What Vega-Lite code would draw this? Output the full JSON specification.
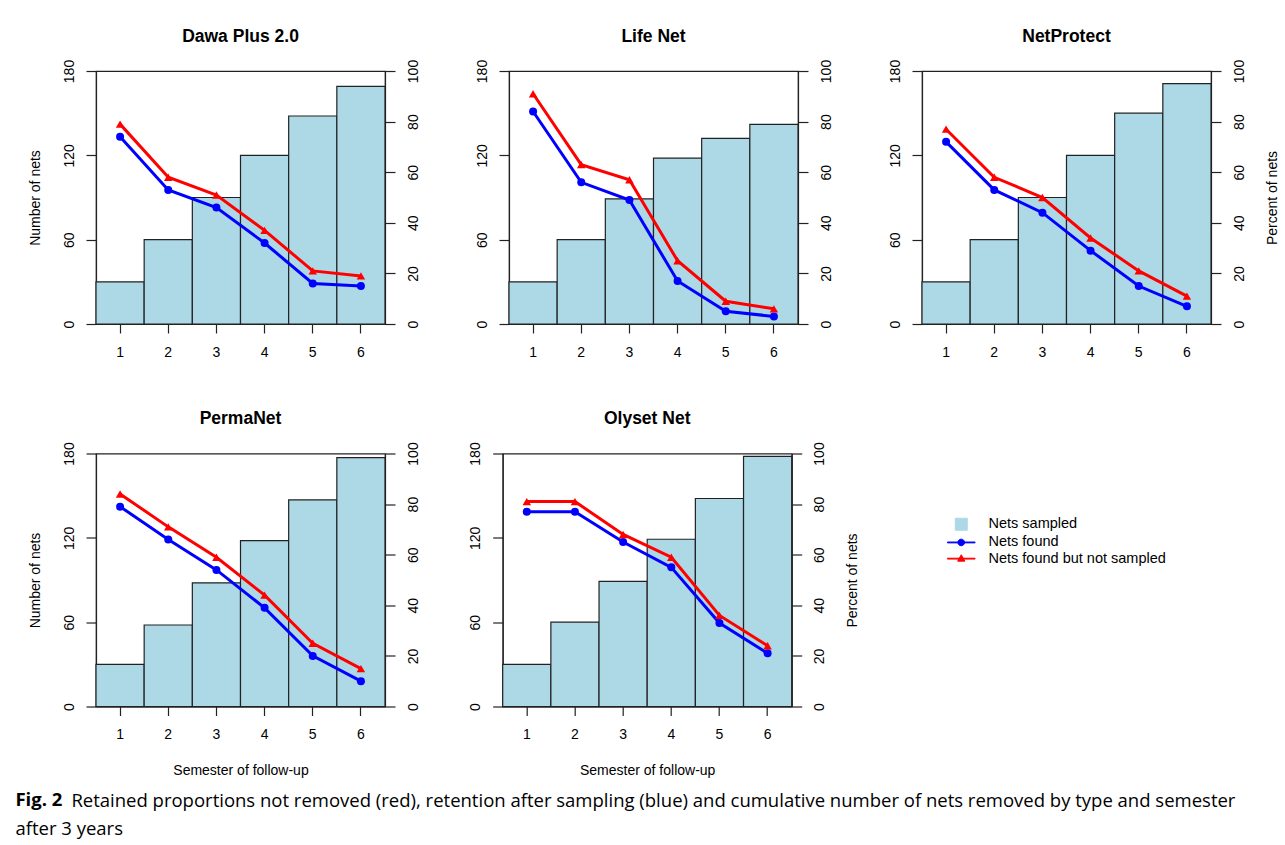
{
  "$schema": "https://vega.github.io/schema/vega-lite/v6.json",
  "background": "white",
  "padding": {"left": 15, "top": 27, "right": 4, "bottom": 4},
  "data": {"values": [
    {"net": "Dawa Plus 2.0", "semester": 1, "Nets sampled": 30, "Nets found": 74, "Nets found but not sampled": 79},
    {"net": "Dawa Plus 2.0", "semester": 2, "Nets sampled": 60, "Nets found": 53, "Nets found but not sampled": 58},
    {"net": "Dawa Plus 2.0", "semester": 3, "Nets sampled": 90, "Nets found": 46, "Nets found but not sampled": 51},
    {"net": "Dawa Plus 2.0", "semester": 4, "Nets sampled": 120, "Nets found": 32, "Nets found but not sampled": 37},
    {"net": "Dawa Plus 2.0", "semester": 5, "Nets sampled": 148, "Nets found": 16, "Nets found but not sampled": 21},
    {"net": "Dawa Plus 2.0", "semester": 6, "Nets sampled": 169, "Nets found": 15, "Nets found but not sampled": 19},
    {"net": "Life Net", "semester": 1, "Nets sampled": 30, "Nets found": 84, "Nets found but not sampled": 91},
    {"net": "Life Net", "semester": 2, "Nets sampled": 60, "Nets found": 56, "Nets found but not sampled": 63},
    {"net": "Life Net", "semester": 3, "Nets sampled": 89, "Nets found": 49, "Nets found but not sampled": 57},
    {"net": "Life Net", "semester": 4, "Nets sampled": 118, "Nets found": 17, "Nets found but not sampled": 25},
    {"net": "Life Net", "semester": 5, "Nets sampled": 132, "Nets found": 5, "Nets found but not sampled": 9},
    {"net": "Life Net", "semester": 6, "Nets sampled": 142, "Nets found": 3, "Nets found but not sampled": 6},
    {"net": "NetProtect", "semester": 1, "Nets sampled": 30, "Nets found": 72, "Nets found but not sampled": 77},
    {"net": "NetProtect", "semester": 2, "Nets sampled": 60, "Nets found": 53, "Nets found but not sampled": 58},
    {"net": "NetProtect", "semester": 3, "Nets sampled": 90, "Nets found": 44, "Nets found but not sampled": 50},
    {"net": "NetProtect", "semester": 4, "Nets sampled": 120, "Nets found": 29, "Nets found but not sampled": 34},
    {"net": "NetProtect", "semester": 5, "Nets sampled": 150, "Nets found": 15, "Nets found but not sampled": 21},
    {"net": "NetProtect", "semester": 6, "Nets sampled": 171, "Nets found": 7, "Nets found but not sampled": 11},
    {"net": "PermaNet", "semester": 1, "Nets sampled": 30, "Nets found": 79, "Nets found but not sampled": 84},
    {"net": "PermaNet", "semester": 2, "Nets sampled": 58, "Nets found": 66, "Nets found but not sampled": 71},
    {"net": "PermaNet", "semester": 3, "Nets sampled": 88, "Nets found": 54, "Nets found but not sampled": 59},
    {"net": "PermaNet", "semester": 4, "Nets sampled": 118, "Nets found": 39, "Nets found but not sampled": 44},
    {"net": "PermaNet", "semester": 5, "Nets sampled": 147, "Nets found": 20, "Nets found but not sampled": 25},
    {"net": "PermaNet", "semester": 6, "Nets sampled": 177, "Nets found": 10, "Nets found but not sampled": 15},
    {"net": "Olyset Net", "semester": 1, "Nets sampled": 30, "Nets found": 77, "Nets found but not sampled": 81},
    {"net": "Olyset Net", "semester": 2, "Nets sampled": 60, "Nets found": 77, "Nets found but not sampled": 81},
    {"net": "Olyset Net", "semester": 3, "Nets sampled": 89, "Nets found": 65, "Nets found but not sampled": 68},
    {"net": "Olyset Net", "semester": 4, "Nets sampled": 119, "Nets found": 55, "Nets found but not sampled": 59},
    {"net": "Olyset Net", "semester": 5, "Nets sampled": 148, "Nets found": 33, "Nets found but not sampled": 36},
    {"net": "Olyset Net", "semester": 6, "Nets sampled": 178, "Nets found": 21, "Nets found but not sampled": 24}
  ]},
  "transform": [{"fold": ["Nets sampled", "Nets found", "Nets found but not sampled"], "as": ["series", "value"]}],
  "title": {
    "text": "Fig. 2", "subtitle": "after 3 years", "orient": "bottom", "anchor": "start", "frame": "bounds",
    "font": "Open Sans", "fontSize": 18.5, "fontWeight": "bold", "color": "black", "baseline": "top",
    "subtitleFont": "Open Sans", "subtitleFontSize": 18.5, "subtitleFontWeight": "normal", "subtitleColor": "black",
    "subtitlePadding": 11, "offset": 0, "dx": -12, "dy": -20
  },
  "spacing": 49.5,
  "vconcat": [
    {
      "hconcat": [
        {
          "title": "Dawa Plus 2.0", "width": 289, "height": 253,
          "transform": [{"filter": "datum.net === 'Dawa Plus 2.0'"}],
          "encoding": {"x": {"field": "semester", "type": "ordinal", "scale": {"type": "band", "paddingInner": 0, "paddingOuter": 0}, "axis": {"title": null}}},
          "layer": [
            {"transform": [{"filter": "datum.series === 'Nets sampled'"}],
             "mark": {"type": "bar", "stroke": "#222", "strokeWidth": 1.2},
             "encoding": {
               "y": {"field": "value", "type": "quantitative", "scale": {"domain": [0, 180], "nice": false}, "axis": {"orient": "left", "values": [0, 60, 120, 180], "title": "Number of nets"}},
               "color": {"field": "series", "type": "nominal", "title": null, "scale": {"domain": ["Nets sampled", "Nets found", "Nets found but not sampled"], "range": ["#ADD8E6", "#0000FF", "#FF0000"]}}
             }},
            {"transform": [{"filter": "datum.series !== 'Nets sampled'"}],
             "encoding": {
               "y": {"field": "value", "type": "quantitative", "scale": {"domain": [0, 100], "nice": false}, "axis": {"orient": "right", "values": [0, 20, 40, 60, 80, 100], "title": null}},
               "color": {"field": "series", "type": "nominal", "title": null, "scale": {"domain": ["Nets sampled", "Nets found", "Nets found but not sampled"], "range": ["#ADD8E6", "#0000FF", "#FF0000"]}}
             },
             "layer": [
               {"mark": {"type": "line", "strokeWidth": 3}},
               {"transform": [{"filter": "datum.series === 'Nets found'"}], "mark": {"type": "point", "shape": "circle", "filled": true, "opacity": 1, "size": 64}},
               {"transform": [{"filter": "datum.series === 'Nets found but not sampled'"}], "mark": {"type": "point", "shape": "triangle-up", "filled": true, "opacity": 1, "size": 72}}
             ]},
            {"transform": [{"filter": "false"}],
             "mark": {"type": "point", "filled": true, "opacity": 1},
             "encoding": {
               "color": {"field": "series", "type": "nominal", "title": null, "scale": {"domain": ["Nets sampled", "Nets found", "Nets found but not sampled"], "range": ["#ADD8E6", "#0000FF", "#FF0000"]},
                 "legend": {"title": null, "orient": "none", "legendX": 858, "legendY": 446}},
               "shape": {"field": "series", "type": "nominal", "title": null,
                 "scale": {"domain": ["Nets sampled", "Nets found", "Nets found but not sampled"],
                   "range": ["M-1,-1H1V1H-1Z", "M-2.3,-0.07H2.3V0.07H-2.3Z M0.55,0A0.55,0.55 0 1,1 -0.55,0A0.55,0.55 0 1,1 0.55,0Z", "M-2.3,-0.07H2.3V0.07H-2.3Z M0,-0.65L0.6,0.42L-0.6,0.42Z"]},
                 "legend": {"title": null, "orient": "none", "legendX": 858, "legendY": 446}}
             }}
          ],
          "resolve": {"scale": {"y": "independent"}}
        },
        {
          "title": "Life Net", "width": 289, "height": 253,
          "transform": [{"filter": "datum.net === 'Life Net'"}],
          "encoding": {"x": {"field": "semester", "type": "ordinal", "scale": {"type": "band", "paddingInner": 0, "paddingOuter": 0}, "axis": {"title": null}}},
          "layer": [
            {"transform": [{"filter": "datum.series === 'Nets sampled'"}],
             "mark": {"type": "bar", "stroke": "#222", "strokeWidth": 1.2},
             "encoding": {
               "y": {"field": "value", "type": "quantitative", "scale": {"domain": [0, 180], "nice": false}, "axis": {"orient": "left", "values": [0, 60, 120, 180], "title": null}},
               "color": {"field": "series", "type": "nominal", "title": null, "scale": {"domain": ["Nets sampled", "Nets found", "Nets found but not sampled"], "range": ["#ADD8E6", "#0000FF", "#FF0000"]}}
             }},
            {"transform": [{"filter": "datum.series !== 'Nets sampled'"}],
             "encoding": {
               "y": {"field": "value", "type": "quantitative", "scale": {"domain": [0, 100], "nice": false}, "axis": {"orient": "right", "values": [0, 20, 40, 60, 80, 100], "title": null}},
               "color": {"field": "series", "type": "nominal", "title": null, "scale": {"domain": ["Nets sampled", "Nets found", "Nets found but not sampled"], "range": ["#ADD8E6", "#0000FF", "#FF0000"]}}
             },
             "layer": [
               {"mark": {"type": "line", "strokeWidth": 3}},
               {"transform": [{"filter": "datum.series === 'Nets found'"}], "mark": {"type": "point", "shape": "circle", "filled": true, "opacity": 1, "size": 64}},
               {"transform": [{"filter": "datum.series === 'Nets found but not sampled'"}], "mark": {"type": "point", "shape": "triangle-up", "filled": true, "opacity": 1, "size": 72}}
             ]}
          ],
          "resolve": {"scale": {"y": "independent"}}
        },
        {
          "title": "NetProtect", "width": 289, "height": 253,
          "transform": [{"filter": "datum.net === 'NetProtect'"}],
          "encoding": {"x": {"field": "semester", "type": "ordinal", "scale": {"type": "band", "paddingInner": 0, "paddingOuter": 0}, "axis": {"title": null}}},
          "layer": [
            {"transform": [{"filter": "datum.series === 'Nets sampled'"}],
             "mark": {"type": "bar", "stroke": "#222", "strokeWidth": 1.2},
             "encoding": {
               "y": {"field": "value", "type": "quantitative", "scale": {"domain": [0, 180], "nice": false}, "axis": {"orient": "left", "values": [0, 60, 120, 180], "title": null}},
               "color": {"field": "series", "type": "nominal", "title": null, "scale": {"domain": ["Nets sampled", "Nets found", "Nets found but not sampled"], "range": ["#ADD8E6", "#0000FF", "#FF0000"]}}
             }},
            {"transform": [{"filter": "datum.series !== 'Nets sampled'"}],
             "encoding": {
               "y": {"field": "value", "type": "quantitative", "scale": {"domain": [0, 100], "nice": false}, "axis": {"orient": "right", "values": [0, 20, 40, 60, 80, 100], "title": "Percent of nets"}},
               "color": {"field": "series", "type": "nominal", "title": null, "scale": {"domain": ["Nets sampled", "Nets found", "Nets found but not sampled"], "range": ["#ADD8E6", "#0000FF", "#FF0000"]}}
             },
             "layer": [
               {"mark": {"type": "line", "strokeWidth": 3}},
               {"transform": [{"filter": "datum.series === 'Nets found'"}], "mark": {"type": "point", "shape": "circle", "filled": true, "opacity": 1, "size": 64}},
               {"transform": [{"filter": "datum.series === 'Nets found but not sampled'"}], "mark": {"type": "point", "shape": "triangle-up", "filled": true, "opacity": 1, "size": 72}}
             ]}
          ],
          "resolve": {"scale": {"y": "independent"}}
        }
      ],
      "spacing": 124, "bounds": "flush"
    },
    {
      "title": {
        "text": "Retained proportions not removed (red), retention after sampling (blue) and cumulative number of nets removed by type and semester",
        "orient": "bottom", "anchor": "start", "frame": "bounds", "font": "Open Sans", "fontSize": 18.5, "fontWeight": "normal",
        "color": "black", "baseline": "top", "offset": 14, "dx": 44
      },
      "hconcat": [
        {
          "title": "PermaNet", "width": 289, "height": 253,
          "transform": [{"filter": "datum.net === 'PermaNet'"}],
          "encoding": {"x": {"field": "semester", "type": "ordinal", "scale": {"type": "band", "paddingInner": 0, "paddingOuter": 0}, "axis": {"title": "Semester of follow-up"}}},
          "layer": [
            {"transform": [{"filter": "datum.series === 'Nets sampled'"}],
             "mark": {"type": "bar", "stroke": "#222", "strokeWidth": 1.2},
             "encoding": {
               "y": {"field": "value", "type": "quantitative", "scale": {"domain": [0, 180], "nice": false}, "axis": {"orient": "left", "values": [0, 60, 120, 180], "title": "Number of nets"}},
               "color": {"field": "series", "type": "nominal", "title": null, "scale": {"domain": ["Nets sampled", "Nets found", "Nets found but not sampled"], "range": ["#ADD8E6", "#0000FF", "#FF0000"]}}
             }},
            {"transform": [{"filter": "datum.series !== 'Nets sampled'"}],
             "encoding": {
               "y": {"field": "value", "type": "quantitative", "scale": {"domain": [0, 100], "nice": false}, "axis": {"orient": "right", "values": [0, 20, 40, 60, 80, 100], "title": null}},
               "color": {"field": "series", "type": "nominal", "title": null, "scale": {"domain": ["Nets sampled", "Nets found", "Nets found but not sampled"], "range": ["#ADD8E6", "#0000FF", "#FF0000"]}}
             },
             "layer": [
               {"mark": {"type": "line", "strokeWidth": 3}},
               {"transform": [{"filter": "datum.series === 'Nets found'"}], "mark": {"type": "point", "shape": "circle", "filled": true, "opacity": 1, "size": 64}},
               {"transform": [{"filter": "datum.series === 'Nets found but not sampled'"}], "mark": {"type": "point", "shape": "triangle-up", "filled": true, "opacity": 1, "size": 72}}
             ]}
          ],
          "resolve": {"scale": {"y": "independent"}}
        },
        {
          "title": "Olyset Net", "width": 289, "height": 253,
          "transform": [{"filter": "datum.net === 'Olyset Net'"}],
          "encoding": {"x": {"field": "semester", "type": "ordinal", "scale": {"type": "band", "paddingInner": 0, "paddingOuter": 0}, "axis": {"title": "Semester of follow-up"}}},
          "layer": [
            {"transform": [{"filter": "datum.series === 'Nets sampled'"}],
             "mark": {"type": "bar", "stroke": "#222", "strokeWidth": 1.2},
             "encoding": {
               "y": {"field": "value", "type": "quantitative", "scale": {"domain": [0, 180], "nice": false}, "axis": {"orient": "left", "values": [0, 60, 120, 180], "title": null}},
               "color": {"field": "series", "type": "nominal", "title": null, "scale": {"domain": ["Nets sampled", "Nets found", "Nets found but not sampled"], "range": ["#ADD8E6", "#0000FF", "#FF0000"]}}
             }},
            {"transform": [{"filter": "datum.series !== 'Nets sampled'"}],
             "encoding": {
               "y": {"field": "value", "type": "quantitative", "scale": {"domain": [0, 100], "nice": false}, "axis": {"orient": "right", "values": [0, 20, 40, 60, 80, 100], "title": "Percent of nets"}},
               "color": {"field": "series", "type": "nominal", "title": null, "scale": {"domain": ["Nets sampled", "Nets found", "Nets found but not sampled"], "range": ["#ADD8E6", "#0000FF", "#FF0000"]}}
             },
             "layer": [
               {"mark": {"type": "line", "strokeWidth": 3}},
               {"transform": [{"filter": "datum.series === 'Nets found'"}], "mark": {"type": "point", "shape": "circle", "filled": true, "opacity": 1, "size": 64}},
               {"transform": [{"filter": "datum.series === 'Nets found but not sampled'"}], "mark": {"type": "point", "shape": "triangle-up", "filled": true, "opacity": 1, "size": 72}}
             ]}
          ],
          "resolve": {"scale": {"y": "independent"}}
        }
      ],
      "spacing": 117.7, "bounds": "flush"
    }
  ],
  "resolve": {"scale": {"color": "shared", "shape": "shared"}, "legend": {"color": "shared", "shape": "shared"}},
  "config": {
    "font": "Liberation Sans",
    "view": {"stroke": "#222", "strokeWidth": 1.2},
    "axis": {"grid": false, "domainColor": "#222", "tickColor": "#222", "domainWidth": 1.2, "tickWidth": 1.2,
      "labelColor": "black", "titleColor": "black", "labelFont": "Liberation Sans", "titleFont": "Liberation Sans",
      "labelFontSize": 14, "titleFontSize": 14, "titleFontWeight": "normal", "labelFlush": false, "labelOverlap": false},
    "axisLeft": {"labelAngle": 270, "labelAlign": "center", "labelBaseline": "middle", "tickSize": 10, "labelPadding": 17, "titlePadding": 20, "titleAngle": 270},
    "axisRight": {"labelAngle": 270, "labelAlign": "center", "labelBaseline": "middle", "tickSize": 10, "labelPadding": 18, "titlePadding": 19, "titleAngle": 270, "titleBaseline": "top"},
    "axisBottom": {"labelAngle": 0, "tickSize": 9, "labelPadding": 12, "titlePadding": 22},
    "title": {"font": "Liberation Sans", "fontSize": 17.5, "fontWeight": "bold", "color": "black", "frame": "group", "anchor": "middle", "offset": 14},
    "legend": {"symbolSize": 144, "symbolStrokeWidth": 1, "labelOffset": 20, "labelFontSize": 14.5, "labelFont": "Liberation Sans", "labelColor": "black", "labelLimit": 400, "rowPadding": 1.2, "padding": 0}
  }
}
